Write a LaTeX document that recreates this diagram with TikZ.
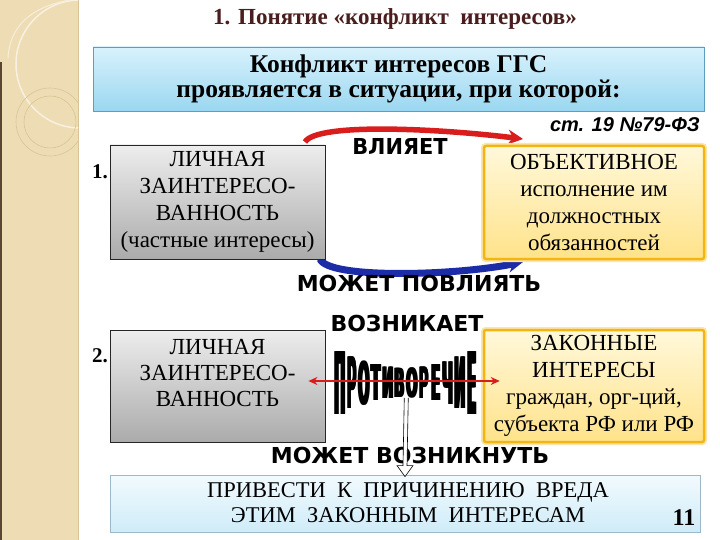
\documentclass[tikz,border=0pt]{standalone}
\usepackage{fontspec}
\setmainfont{Liberation Serif}
\setsansfont{Liberation Sans}
\newfontfamily\lourd{DejaVu Sans}
\usetikzlibrary{arrows.meta,calc,positioning}

\definecolor{bande}{HTML}{EEDDB4}
\definecolor{bandetrait}{HTML}{D9C396}
\definecolor{bordbrun}{HTML}{5A4432}
\definecolor{bordeaux}{HTML}{4A1E1E}
\definecolor{cielhaut}{HTML}{D9F2FC}
\definecolor{cielbas}{HTML}{9AD7F0}
\definecolor{cielbord}{HTML}{5E9CC0}
\definecolor{palehaut}{HTML}{F2FAFE}
\definecolor{palebas}{HTML}{CFECF8}
\definecolor{palebord}{HTML}{9DB9C9}
\definecolor{orhaut}{HTML}{FFF8DA}
\definecolor{orbas}{HTML}{FFE38A}
\definecolor{orbord}{HTML}{F2B512}
\definecolor{rougefleche}{HTML}{D91C1C}
\definecolor{bleufleche}{HTML}{1C2BA6}

\newcommand{\etire}[2]{\scalebox{#1}[1]{#2}}
% lettre grasse : trois copies décalées
\newcommand{\epais}[1]{\rlap{#1}\kern0.9pt\rlap{#1}\kern0.9pt#1}

\begin{document}
\begin{tikzpicture}[x=1pt,y=-1pt]

	\useasboundingbox (0,0) rectangle (720,540);
	\fill[white] (0,0) rectangle (720,540);

	% bande décorative à gauche
	\fill[bande] (0,0) rectangle (78,540);
	\draw[bandetrait, line width=1pt] (78,0) -- (78,540);
	\fill[bordbrun] (0,62) rectangle (2,540);
	\begin{scope}
		\clip (2,0) rectangle (78,540);
		\draw[white!60!bande, line width=1.5pt] (80,64) circle (64);
		\draw[bandetrait, line width=0.6pt] (50,122) circle (26);
		\draw[bandetrait, line width=0.6pt] (50,122) circle (34);
		\draw[white!50!bande, line width=1pt] (8,58) .. controls (10,20) and (40,5) .. (70,0);
	\end{scope}

	\tikzset{
		titre/.style={font=\bfseries\fontsize{23}{26}\selectfont, text=bordeaux},
		ciel/.style={draw=cielbord, line width=0.8pt, top color=cielhaut, bottom color=cielbas,
				align=center, font=\bfseries\fontsize{25.5}{25}\selectfont},
		gris/.style={draw=black!85, line width=0.8pt, top color=black!7, bottom color=black!33,
				align=center, font=\fontsize{23}{27}\selectfont},
		dore/.style={draw=orbord, line width=2.5pt, rounded corners=2pt,
				preaction={draw=orbord!35, line width=6pt, rounded corners=2pt},
				top color=orhaut, bottom color=orbas,
				align=center, font=\fontsize{23}{27}\selectfont},
		pale/.style={draw=palebord, line width=0.8pt, top color=palehaut, bottom color=palebas},
		verbe/.style={font=\lourd\bfseries\fontsize{22}{24}\selectfont, inner sep=0pt},
		num/.style={font=\bfseries\fontsize{21}{22}\selectfont, inner sep=0pt},
		lettre/.style={font=\lourd\bfseries\fontsize{20}{20}\selectfont, inner sep=0pt}
	}

	\node[titre] (titre) at (395,19) {1. Понятие «конфликт\ \ интересов»};

	\node[ciel, minimum width=611pt, minimum height=64pt] (entete) at (398.5,79)
	{Конфликт интересов ГГС\\проявляется в ситуации, при которой:};

	\node[font=\sffamily\bfseries\itshape\fontsize{20}{22}\selectfont, anchor=east, inner sep=0pt]
	(article) at (700,125) {ст. 19 №79-ФЗ};

	% flèches courbes entre les deux cases du haut
	\coordinate (rs) at (305,142);
	\coordinate (bs) at (320,259);
	\draw[rougefleche, line width=5.5pt, -{Stealth[length=15pt,width=15pt]}]
	(rs) .. controls +(12,-20) and +(-80,-10) .. (523,139);
	\draw[bleufleche, line width=7pt, -{Stealth[length=15pt,width=15pt]}]
	(bs) .. controls +(8,20) and +(-70,14) .. (523,262);

	\node[gris, minimum width=215pt, minimum height=114pt] (perso1) at (217.5,202)
	{ЛИЧНАЯ\\ЗАИНТЕРЕСО-\\ВАННОСТЬ\\(частные интересы)};
	\node[dore, minimum width=220pt, minimum height=113pt] (objectif) at (594,202.5)
	{ОБЪЕКТИВНОЕ\\исполнение им\\должностных\\обязанностей};

	\node[num, anchor=east] (n1) at (108,172) {1.};

	\node[verbe] (influe) at (400,146) {\etire{0.95}{ВЛИЯЕТ}};
	\node[verbe] (peut) at (419,283) {МОЖЕТ ПОВЛИЯТЬ};

	% deuxième ligne
	\node[gris, minimum width=215pt, minimum height=112pt] (perso2) at (217.5,386) {};
	\node[align=center, font=\fontsize{23}{26}\selectfont] (perso2txt) at (217.5,373)
	{ЛИЧНАЯ\\ЗАИНТЕРЕСО-\\ВАННОСТЬ};
	\node[dore, minimum width=220pt, minimum height=112pt] (legal) at (594,386)
	{ЗАКОННЫЕ\\ИНТЕРЕСЫ\\граждан, орг-ций,\\субъекта РФ или РФ};

	\node[num, anchor=east] (n2) at (108,356) {2.};

	\node[verbe] (surgit) at (407,323) {ВОЗНИКАЕТ};

	% mot déformé « противоречие »
	\foreach \l [count=\i] in {П,Р,О,Т,И,В,О,Р,Е,Ч,И,Е}{
			\pgfmathsetmacro\t{(\i-6.5)/5.5}
			\pgfmathsetmacro\sy{(29+34*\t*\t)/14.6}
			\node[lettre] (p\i) at ({328+12*\i},383) {\epais{\scalebox{0.68}[\sy]{\l}}};
		}

	\draw[rougefleche, line width=2pt, {Stealth[length=9pt,width=8pt]}-{Stealth[length=9pt,width=8pt]}]
	($(perso2.east)+(-17,-5)$) -- ($(legal.west)+(17,-5)$);

	\node[verbe] (peutsurgir) at (410,455) {МОЖЕТ ВОЗНИКНУТЬ};

	\node[pale, minimum width=590pt, minimum height=57pt] (dommage) at (405,503.5) {};
	\node[align=center, font=\fontsize{22.5}{25}\selectfont] (dommagetxt) at (408,503)
	{ПРИВЕСТИ\ \ К\ \ ПРИЧИНЕНИЮ\ \ ВРЕДА\\ЭТИМ\ \ ЗАКОННЫМ\ \ ИНТЕРЕСАМ};
	\node[font=\bfseries\fontsize{24}{26}\selectfont] (page) at (684,518) {11};

	% flèche creuse vers le bas
	\coordinate (vs) at (p6.south east);
	\draw[black, line width=0.6pt, fill=white]
	($(vs)+(-2,0)$) -- ($(dommage.north)+(-2,-9)$) -- ($(dommage.north)+(-8,-9)$)
	-- ($(dommage.north)+(0,2)$) -- ($(dommage.north)+(8,-9)$) -- ($(dommage.north)+(2,-9)$)
	-- ($(vs)+(2,0)$);

\end{tikzpicture}
\end{document}
